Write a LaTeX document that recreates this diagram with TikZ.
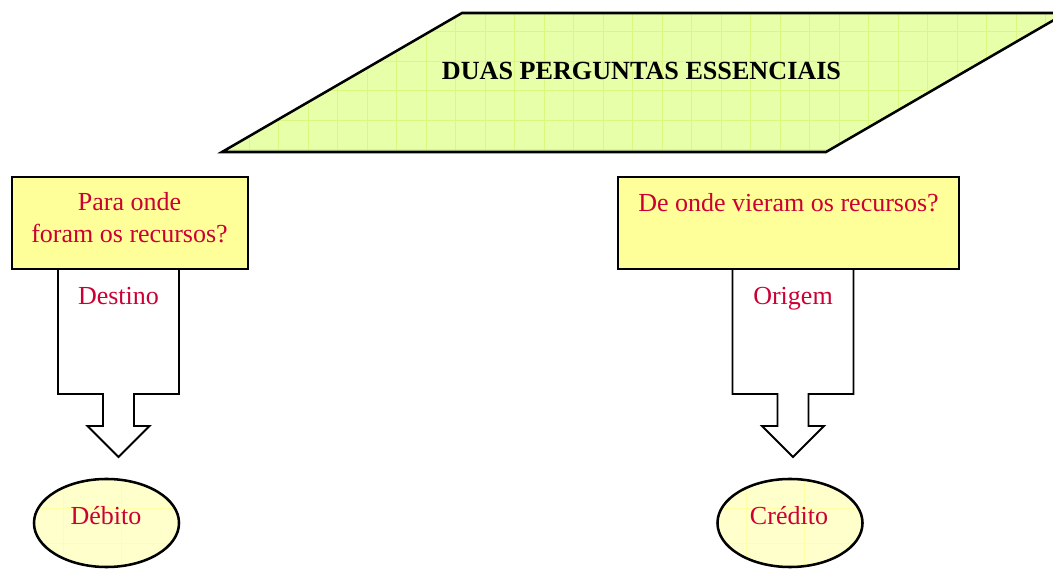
\documentclass[tikz,border=0pt]{standalone}
\usepackage{fontspec}
\setmainfont{Liberation Serif}
\usetikzlibrary{shapes.geometric}
\definecolor{boxyellow}{RGB}{255,255,153}
\definecolor{ovalyellow}{RGB}{255,255,204}
\definecolor{ovalgrid}{RGB}{255,255,165}
\definecolor{leafgreen}{RGB}{232,255,170}
\definecolor{gridgreen}{RGB}{218,248,125}
\definecolor{wordred}{RGB}{204,0,51}
\begin{document}
\begin{tikzpicture}[x=0.025cm,y=-0.025cm,
    bigfont/.style={font=\fontsize{18.5}{23.4}\selectfont},
    question/.style={draw,line width=1.8pt,fill=boxyellow,
        minimum height=2.3cm,inner sep=0pt},
    blockarrow/.style={draw,line width=1.4pt,fill=white,line join=miter},
    answer/.style={ellipse,draw,line width=1.8pt,fill=ovalyellow,
        minimum width=3.625cm,minimum height=2.2cm,inner sep=0pt,
        path picture={
            \foreach \gx in {-43.5,14.5,72.5}
                \draw[ovalgrid,line width=0.6pt]
                    ([xshift=\gx*0.025cm]path picture bounding box.north)
                    -- ([xshift=\gx*0.025cm]path picture bounding box.south);
            \foreach \gy in {-20,15}
                \draw[ovalgrid,line width=0.6pt]
                    ([yshift=\gy*0.025cm]path picture bounding box.west)
                    -- ([yshift=\gy*0.025cm]path picture bounding box.east);
        }},
    wordtext/.style={text=wordred,inner sep=0pt,align=center,anchor=base,bigfont}]
    \useasboundingbox (0,0) rectangle (1053,569);

    % the slanted heading
    \begin{scope}
        \clip (462,13) -- (1066,13) -- (826,152) -- (222,152) -- cycle;
        \fill[leafgreen] (222,13) rectangle (1066,152);
        \foreach \gx in {13,42.5,...,1066}
            \draw[gridgreen,line width=0.6pt] (\gx,13) -- (\gx,152);
        \foreach \gy in {31.5,61,90.5,120,149.5}
            \draw[gridgreen,line width=0.6pt] (222,\gy) -- (1066,\gy);
    \end{scope}
    \draw[line width=1.8pt,line join=miter]
        (462,13) -- (1066,13) -- (826,152) -- (222,152) -- cycle;
    \node[anchor=base,inner sep=0pt,font=\bfseries\fontsize{18.6}{23}\selectfont] (title) at (641.5,80) {DUAS PERGUNTAS ESSENCIAIS};

    % block arrows
    \draw[blockarrow,shift={(118.5,0)}] (-60.5,269) -- (-60.5,394) -- (-15.5,394)
        -- (-15.5,426) -- (-31,426) -- (0,457) -- (31,426) -- (15.5,426)
        -- (15.5,394) -- (60.5,394) -- (60.5,269) -- cycle;
    \draw[blockarrow,shift={(793,0)}] (-60.5,269) -- (-60.5,394) -- (-15.5,394)
        -- (-15.5,426) -- (-31,426) -- (0,457) -- (31,426) -- (15.5,426)
        -- (15.5,394) -- (60.5,394) -- (60.5,269) -- cycle;

    % questions
    \node[question,minimum width=5.9cm] (whereto) at (130,223) {};
    \node[question,minimum width=8.525cm] (wherefrom) at (788.5,223) {};
    \node[wordtext] (wheretotext) at (129.5,243) {Para onde\\foram os recursos?};
    \node[wordtext] (wherefromtext) at (788.5,212) {De onde vieram os recursos?};

    \node[wordtext] (destino) at (118.5,305) {Destino};
    \node[wordtext] (origem) at (793,305) {Origem};

    % answers
    \node[answer] (debito) at (106.5,523) {};
    \node[answer] (credito) at (790,523) {};
    \node[wordtext] (debitotext) at (106,525) {Débito};
    \node[wordtext] (creditotext) at (789,525) {Crédito};
\end{tikzpicture}
\end{document}
